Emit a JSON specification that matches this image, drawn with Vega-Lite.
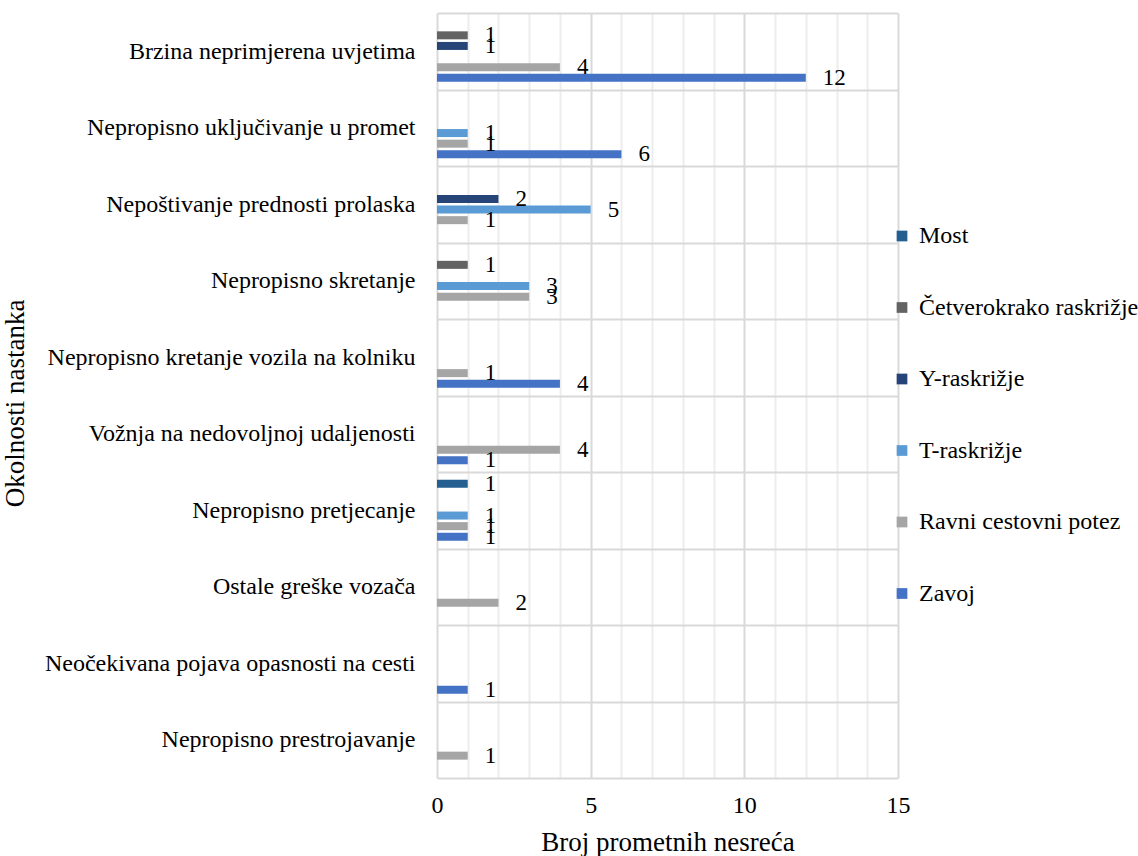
{
  "$schema": "https://vega.github.io/schema/vega-lite/v6.json",
  "width": 461,
  "height": 765,
  "autosize": {"type": "none"},
  "padding": {"left": 437, "top": 13, "right": 240, "bottom": 78},
  "background": "white",
  "config": {
    "view": {"stroke": null},
    "font": "Liberation Serif",
    "axis": {"labelColor": "#000", "titleColor": "#000", "labelFont": "Liberation Serif", "titleFont": "Liberation Serif"},
    "legend": {"labelColor": "#000", "labelFont": "Liberation Serif"}
  },
  "data": {
    "values": [
      {"okolnost": "Brzina neprimjerena uvjetima", "tip": "Četverokrako raskrižje", "broj": 1},
      {"okolnost": "Brzina neprimjerena uvjetima", "tip": "Y-raskrižje", "broj": 1},
      {"okolnost": "Brzina neprimjerena uvjetima", "tip": "Ravni cestovni potez", "broj": 4},
      {"okolnost": "Brzina neprimjerena uvjetima", "tip": "Zavoj", "broj": 12},
      {"okolnost": "Nepropisno uključivanje u promet", "tip": "T-raskrižje", "broj": 1},
      {"okolnost": "Nepropisno uključivanje u promet", "tip": "Ravni cestovni potez", "broj": 1},
      {"okolnost": "Nepropisno uključivanje u promet", "tip": "Zavoj", "broj": 6},
      {"okolnost": "Nepoštivanje prednosti prolaska", "tip": "Y-raskrižje", "broj": 2},
      {"okolnost": "Nepoštivanje prednosti prolaska", "tip": "T-raskrižje", "broj": 5},
      {"okolnost": "Nepoštivanje prednosti prolaska", "tip": "Ravni cestovni potez", "broj": 1},
      {"okolnost": "Nepropisno skretanje", "tip": "Četverokrako raskrižje", "broj": 1},
      {"okolnost": "Nepropisno skretanje", "tip": "T-raskrižje", "broj": 3},
      {"okolnost": "Nepropisno skretanje", "tip": "Ravni cestovni potez", "broj": 3},
      {"okolnost": "Nepropisno kretanje vozila na kolniku", "tip": "Ravni cestovni potez", "broj": 1},
      {"okolnost": "Nepropisno kretanje vozila na kolniku", "tip": "Zavoj", "broj": 4},
      {"okolnost": "Vožnja na nedovoljnoj udaljenosti", "tip": "Ravni cestovni potez", "broj": 4},
      {"okolnost": "Vožnja na nedovoljnoj udaljenosti", "tip": "Zavoj", "broj": 1},
      {"okolnost": "Nepropisno pretjecanje", "tip": "Most", "broj": 1},
      {"okolnost": "Nepropisno pretjecanje", "tip": "T-raskrižje", "broj": 1},
      {"okolnost": "Nepropisno pretjecanje", "tip": "Ravni cestovni potez", "broj": 1},
      {"okolnost": "Nepropisno pretjecanje", "tip": "Zavoj", "broj": 1},
      {"okolnost": "Ostale greške vozača", "tip": "Ravni cestovni potez", "broj": 2},
      {"okolnost": "Neočekivana pojava opasnosti na cesti", "tip": "Zavoj", "broj": 1},
      {"okolnost": "Nepropisno prestrojavanje", "tip": "Ravni cestovni potez", "broj": 1}
    ]
  },
  "encoding": {
    "y": {
      "field": "okolnost",
      "type": "nominal",
      "sort": ["Brzina neprimjerena uvjetima", "Nepropisno uključivanje u promet", "Nepoštivanje prednosti prolaska", "Nepropisno skretanje", "Nepropisno kretanje vozila na kolniku", "Vožnja na nedovoljnoj udaljenosti", "Nepropisno pretjecanje", "Ostale greške vozača", "Neočekivana pojava opasnosti na cesti", "Nepropisno prestrojavanje"],
      "scale": {"paddingInner": 0, "paddingOuter": 0},
      "axis": {
        "title": "Okolnosti nastanka",
        "grid": true,
        "tickBand": "extent",
        "gridColor": "#d9d9d9",
        "gridWidth": 2,
        "domain": false,
        "ticks": false,
        "tickSize": 0,
        "labelPadding": 22,
        "labelFontSize": 24,
        "labelLimit": 0,
        "titleFontSize": 27,
        "titleFontWeight": "normal",
        "titleX": -422,
        "titleY": 390,
        "titleBaseline": "middle"
      }
    },
    "yOffset": {
      "field": "tip",
      "type": "nominal",
      "sort": ["Most", "Četverokrako raskrižje", "Y-raskrižje", "T-raskrižje", "Ravni cestovni potez", "Zavoj"],
      "scale": {"paddingInner": 0.245, "paddingOuter": 0.73}
    },
    "x": {
      "field": "broj",
      "type": "quantitative",
      "scale": {"domain": [0, 15], "nice": false},
      "axis": {
        "title": "Broj prometnih nesreća",
        "values": [0, 1, 2, 3, 4, 5, 6, 7, 8, 9, 10, 11, 12, 13, 14, 15],
        "grid": true,
        "gridColor": {"condition": {"test": "datum.value % 5 === 0", "value": "#d9d9d9"}, "value": "#ededed"},
        "gridWidth": 2,
        "labelExpr": "datum.value % 5 === 0 ? datum.label : ''",
        "labelOverlap": false,
        "labelFlush": false,
        "domain": false,
        "ticks": false,
        "tickSize": 0,
        "labelPadding": 15,
        "labelFontSize": 24,
        "titleFontSize": 27,
        "titleFontWeight": "normal",
        "titleY": 72,
        "titleBaseline": "alphabetic"
      }
    }
  },
  "layer": [
    {
      "mark": {"type": "bar"},
      "encoding": {
        "color": {
          "field": "tip",
          "type": "nominal",
          "scale": {
            "domain": ["Most", "Četverokrako raskrižje", "Y-raskrižje", "T-raskrižje", "Ravni cestovni potez", "Zavoj"],
            "range": ["#255E91", "#636363", "#264478", "#5B9BD5", "#A5A5A5", "#4472C4"]
          },
          "legend": {
            "orient": "none",
            "legendX": 453,
            "legendY": 211,
            "title": null,
            "symbolType": "square",
            "symbolSize": 115,
            "symbolStrokeWidth": 0,
            "labelFontSize": 24,
            "labelOffset": 5,
            "rowPadding": 47.5,
            "padding": 0,
            "labelLimit": 0
          }
        }
      }
    },
    {
      "mark": {"type": "text", "align": "left", "baseline": "middle", "dx": 17, "fontSize": 23, "color": "#000"},
      "encoding": {"text": {"field": "broj", "type": "quantitative"}}
    }
  ]
}
